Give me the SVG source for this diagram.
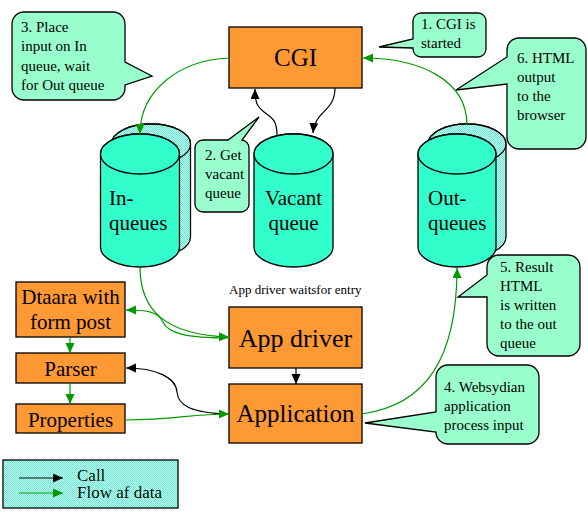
<svg xmlns="http://www.w3.org/2000/svg" width="588" height="512" viewBox="0 0 588 512" font-family="'Liberation Serif', 'DejaVu Serif', serif">
<defs>
<pattern id="dither" width="2" height="2" patternUnits="userSpaceOnUse">
<rect width="2" height="2" fill="#ffffff"/>
<rect width="1" height="1" fill="#33FFCC"/>
<rect x="1" y="1" width="1" height="1" fill="#33FFCC"/>
</pattern>
<marker id="ag" markerWidth="11" markerHeight="10" refX="10" refY="4.5" orient="auto" markerUnits="userSpaceOnUse">
<path d="M0,0 L10,4.5 L0,9 Z" fill="#009900"/>
</marker>
<marker id="ab" markerWidth="11" markerHeight="10" refX="10" refY="4.5" orient="auto" markerUnits="userSpaceOnUse">
<path d="M0,0 L10,4.5 L0,9 Z" fill="#000000"/>
</marker>
</defs>
<style>
.box{fill:#FF9933;stroke:#000;stroke-width:1.3}
.cyl{fill:#33FFCC;stroke:#000;stroke-width:1.3}
.shadow{fill:url(#dither);stroke:#000;stroke-width:1.3}
.call{fill:#99FFCC;stroke:#000;stroke-width:1.3}
text{font-family:'Liberation Serif','DejaVu Serif',serif;fill:#000}
.ct{font-size:15px}
.g{fill:none;stroke:#009900;stroke-width:1.2;marker-end:url(#ag)}
.b{fill:none;stroke:#000;stroke-width:1.2;marker-end:url(#ab)}
</style>
<rect width="588" height="512" fill="#ffffff"/>

<g id="cgi">
<rect class="box" x="229" y="27" width="133" height="61"/>
<text x="295.5" y="66" font-size="25" text-anchor="middle">CGI</text>
</g>

<g id="in-queues">
<path class="shadow" d="M111.5,144 L111.5,237 A39.5,20 0 0 0 190.5,237 L190.5,144 A39.5,20 0 0 0 111.5,144 Z"/>
<ellipse class="shadow" cx="151" cy="144" rx="39.5" ry="20"/>
<path class="cyl" d="M100.5,154 L100.5,247 A39.5,20 0 0 0 179.5,247 L179.5,154 A39.5,20 0 0 0 100.5,154 Z"/>
<ellipse class="cyl" cx="140" cy="154" rx="39.5" ry="20"/>
<text x="109" y="205" font-size="21">In-</text>
<text x="109" y="230" font-size="21">queues</text>
</g>

<g id="vacant-queue">
<path class="cyl" d="M254,154 L254,247 A39.5,20 0 0 0 333,247 L333,154 A39.5,20 0 0 0 254,154 Z"/>
<ellipse class="cyl" cx="293.5" cy="154" rx="39.5" ry="20"/>
<text x="293.5" y="205" font-size="21" text-anchor="middle">Vacant</text>
<text x="293.5" y="230" font-size="21" text-anchor="middle">queue</text>
</g>

<g id="out-queues">
<path class="shadow" d="M428,144 L428,237 A39,20 0 0 0 506,237 L506,144 A39,20 0 0 0 428,144 Z"/>
<ellipse class="shadow" cx="467" cy="144" rx="39" ry="20"/>
<path class="cyl" d="M418,154 L418,247 A39,20 0 0 0 496,247 L496,154 A39,20 0 0 0 418,154 Z"/>
<ellipse class="cyl" cx="457" cy="154" rx="39" ry="20"/>
<text x="428" y="205" font-size="21">Out-</text>
<text x="428" y="230" font-size="21">queues</text>
</g>

<g id="app-driver">
<rect class="box" x="229" y="307" width="133" height="61"/>
<text x="295.5" y="347" font-size="26" text-anchor="middle">App driver</text>
</g>

<g id="application">
<rect class="box" x="229" y="384" width="133" height="59"/>
<text x="295.5" y="422" font-size="25" text-anchor="middle">Application</text>
</g>

<g id="dtaara">
<rect class="box" x="16" y="282" width="109" height="55"/>
<text x="70.5" y="304" font-size="21" text-anchor="middle">Dtaara with</text>
<text x="70.5" y="329" font-size="21" text-anchor="middle">form post</text>
</g>

<g id="parser">
<rect class="box" x="16" y="353" width="109" height="30"/>
<text x="70.5" y="376" font-size="21" text-anchor="middle">Parser</text>
</g>

<g id="properties">
<rect class="box" x="16" y="404" width="109" height="29"/>
<text x="70.5" y="427" font-size="21" text-anchor="middle">Properties</text>
</g>

<g id="note-app-driver">
<text x="229" y="294" font-size="13">App driver waitsfor entry</text>
</g>

<g id="callout-1">
<path class="call" d="M421,13 H478 A8,8 0 0 1 486,21 V49 A8,8 0 0 1 478,57 H421 A8,8 0 0 1 413,49 V48 L379,47 L413,39 V21 A8,8 0 0 1 421,13 Z"/>
<text class="ct" x="421" y="29">1. CGI is</text>
<text class="ct" x="421" y="48">started</text>
</g>

<g id="callout-2">
<path class="call" d="M203,140 H228 L259,117 L242,140 A8,8 0 0 1 249,148 V204 A8,8 0 0 1 241,212 H203 A8,8 0 0 1 195,204 V148 A8,8 0 0 1 203,140 Z"/>
<text class="ct" x="205" y="160">2. Get</text>
<text class="ct" x="205" y="179">vacant</text>
<text class="ct" x="205" y="198">queue</text>
</g>

<g id="callout-3">
<path class="call" d="M24,12 H113 A12,12 0 0 1 125,24 V62 L152,76 L125,85 V88 A12,12 0 0 1 113,100 H24 A12,12 0 0 1 12,88 V24 A12,12 0 0 1 24,12 Z"/>
<text class="ct" x="21" y="32">3. Place</text>
<text class="ct" x="21" y="51">input on In</text>
<text class="ct" x="21" y="71">queue, wait</text>
<text class="ct" x="21" y="90">for Out queue</text>
</g>

<g id="callout-4">
<path class="call" d="M448,365 H527 A12,12 0 0 1 539,377 V432 A12,12 0 0 1 527,444 H448 A12,12 0 0 1 436,432 L365,423 L436,412 V377 A12,12 0 0 1 448,365 Z"/>
<text class="ct" x="444" y="392">4. Websydian</text>
<text class="ct" x="444" y="411">application</text>
<text class="ct" x="444" y="430">process input</text>
</g>

<g id="callout-5">
<path class="call" d="M499,255 H568 A12,12 0 0 1 580,267 V344 A12,12 0 0 1 568,356 H499 A12,12 0 0 1 487,344 V297 L458,297 L487,275 V267 A12,12 0 0 1 499,255 Z"/>
<text class="ct" x="500" y="272">5. Result</text>
<text class="ct" x="500" y="291">HTML</text>
<text class="ct" x="500" y="310">is written</text>
<text class="ct" x="500" y="329">to the out</text>
<text class="ct" x="500" y="348">queue</text>
</g>

<g id="callout-6">
<path class="call" d="M519,38 H574 A12,12 0 0 1 586,50 V137 A12,12 0 0 1 574,149 H519 A12,12 0 0 1 507,137 V84 L456,90 L507,57 V50 A12,12 0 0 1 519,38 Z"/>
<text class="ct" x="517" y="63">6. HTML</text>
<text class="ct" x="517" y="82">output</text>
<text class="ct" x="517" y="101">to the</text>
<text class="ct" x="517" y="120">browser</text>
</g>

<g id="legend">
<rect x="3" y="460" width="175" height="48" fill="url(#dither)" stroke="#000" stroke-width="1.3"/>
<path class="b" d="M19,478 H63"/>
<path class="g" d="M19,493 H63"/>
<text x="77" y="481" font-size="17">Call</text>
<text x="77" y="498" font-size="17">Flow af data</text>
</g>

<g id="connectors">
<path class="g" d="M229,58 C180,60 140,90 140,134"/>
<path class="g" d="M467,125 C467,80 420,58 363,58"/>
<path class="b" d="M277,135 C277,118 270,117 264,112 C258,107 255,104 255,89"/>
<path class="b" d="M335,88 C335,112 315,110 313,133"/>
<path class="g" d="M140,267 C140,310 165,335 229,337"/>
<path class="g" d="M229,338 C185,338 168,333 163,322 C158,311 145,310 126,310"/>
<path class="b" d="M229,414 C190,413 178,405 177,392 C176,377 155,368 126,368"/>
<path class="g" d="M125,420 C175,420 190,414 229,414"/>
<path class="g" d="M362,414 C425,405 457,360 457,268"/>
<path class="b" d="M296,368 L296,384"/>
<path class="g" d="M70,337 L70,353"/>
<path class="g" d="M70,383 L70,404"/>
</g>
</svg>
